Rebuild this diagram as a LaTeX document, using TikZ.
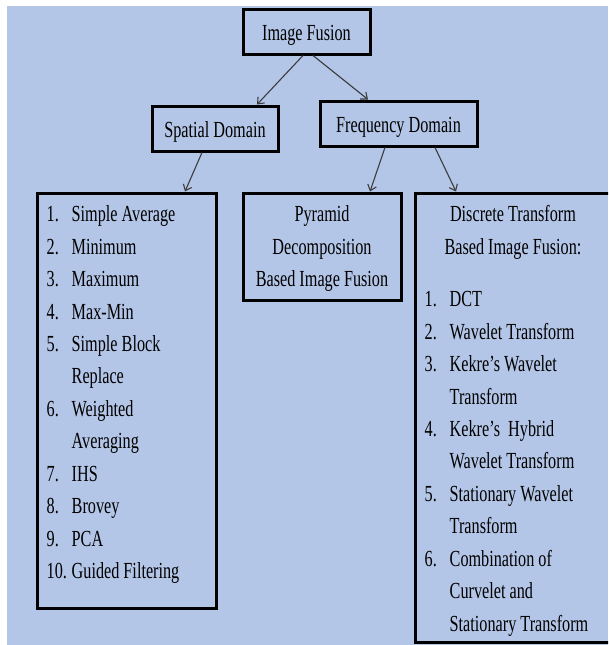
\documentclass[tikz,border=0pt]{standalone}
\usepackage{fontspec}
\setmainfont[FakeStretch=0.705]{Liberation Serif}
\usepackage{tikz}
\usetikzlibrary{positioning,arrows.meta}
\usepackage{xcolor}
\definecolor{bgblue}{HTML}{B4C6E7}
\definecolor{arrowgray}{RGB}{60,60,60}

% numbered line and continuation line of a list
\newcommand{\litem}[2]{\makebox[25pt][l]{#1}#2}
\newcommand{\lcont}[1]{\hspace*{25pt}#1}

\begin{document}
\begin{tikzpicture}[
    x=1pt, y=-1pt,
    every node/.style={font=\fontsize{23}{32.45}\selectfont},
    head/.style={rectangle, draw=black, line width=3pt, minimum height=45pt,
        text height=17pt, text depth=0pt, inner sep=0pt},
    panel/.style={rectangle, draw=black, line width=3pt, inner sep=0pt},
    txt/.style={inner sep=0pt},
    arrow/.style={-{Straight Barb[length=5.5pt,width=9pt]}, line width=1.1pt, arrowgray}
]
    \useasboundingbox (0,0) rectangle (608,645);
    \clip (0,0) rectangle (608,645);
    \fill[bgblue] (7,6) rectangle (608,645);

    % top levels
    \node[head, minimum width=127pt] (fusion) at (306.5,31.5) {Image Fusion};
    \node[head, minimum width=126pt, below=49pt of fusion, xshift=-91.5pt] (spatial) {Spatial Domain};
    \node[head, minimum width=157pt, below=44pt of fusion, xshift=92pt] (freq) {Frequency Domain};

    % bottom boxes
    \node[panel, minimum width=179pt, minimum height=415pt, below=39pt of spatial, xshift=-88.5pt] (list) {};
    \node[panel, minimum width=158pt, minimum height=107pt, below=44pt of freq, xshift=-76.5pt] (pyramid) {};
    \node[panel, minimum width=206pt, minimum height=449pt, below=44pt of freq, xshift=119.5pt] (discrete) {};

    % box contents
    \node[txt, anchor=north west, align=left] (listtxt) at ([xshift=11pt, yshift=-7.3pt]list.north west)
        {\strut\litem{1.}{Simple Average}\\ \litem{2.}{Minimum}\\ \litem{3.}{Maximum}\\
         \litem{4.}{Max-Min}\\ \litem{5.}{Simple Block}\\ \lcont{Replace}\\
         \litem{6.}{Weighted}\\ \lcont{Averaging}\\ \litem{7.}{IHS}\\
         \litem{8.}{Brovey}\\ \litem{9.}{PCA}\\ \litem{10.}{Guided Filtering}};
    \node[txt, anchor=north, align=center] (pyrtxt) at ([yshift=-7.3pt]pyramid.north)
        {\strut Pyramid\\ Decomposition\\ Based Image Fusion};
    \node[txt, anchor=north, align=center] (disctxt) at ([xshift=-5pt, yshift=-7.3pt]discrete.north)
        {\strut Discrete Transform\\ Based Image Fusion:};
    \node[txt, anchor=north west, align=left] (disclist) at ([xshift=11pt, yshift=-92.3pt]discrete.north west)
        {\strut\litem{1.}{DCT}\\ \litem{2.}{Wavelet Transform}\\ \litem{3.}{Kekre’s Wavelet}\\
         \lcont{Transform}\\ \litem{4.}{Kekre’s~~Hybrid}\\ \lcont{Wavelet Transform}\\
         \litem{5.}{Stationary Wavelet}\\ \lcont{Transform}\\ \litem{6.}{Combination of}\\
         \lcont{Curvelet and}\\ \lcont{Stationary Transform}};

    \draw[arrow] ([xshift=-3.5pt]fusion.south) -- ([xshift=42pt]spatial.north);
    \draw[arrow] ([xshift=6.5pt]fusion.south) -- ([xshift=-30.5pt]freq.north);
    \draw[arrow] ([xshift=-13pt]spatial.south) -- ([xshift=58.5pt]list.north);
    \draw[arrow] ([xshift=-13.5pt]freq.south) -- ([xshift=48pt]pyramid.north);
    \draw[arrow] ([xshift=36.5pt]freq.south) -- ([xshift=-62pt]discrete.north);
\end{tikzpicture}
\end{document}
